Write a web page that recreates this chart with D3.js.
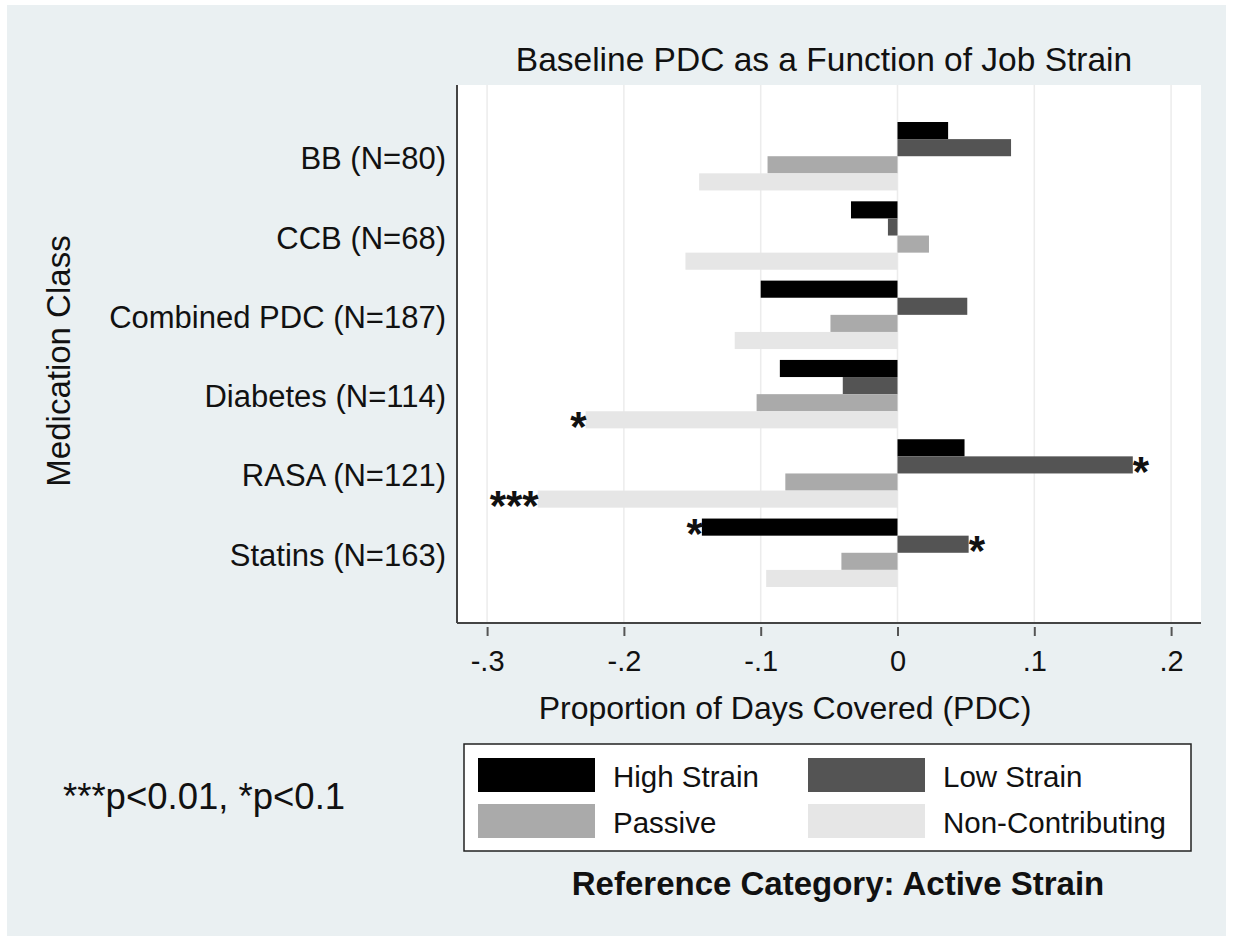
<!DOCTYPE html>
<html>
<head>
<meta charset="utf-8">
<script src="https://cdn.jsdelivr.net/npm/d3@7"></script>
<style>
  body { margin: 0; background: #fff; }
  text { font-family: 'Liberation Sans', Arial, sans-serif; fill: #111; }
</style>
</head>
<body>
<div id="chart"></div>
<script>
// medication classes, top to bottom
const categories = ['BB (N=80)', 'CCB (N=68)', 'Combined PDC (N=187)', 'Diabetes (N=114)', 'RASA (N=121)', 'Statins (N=163)'];
const seriesNames = ['High Strain', 'Low Strain', 'Passive', 'Non-Contributing'];
const seriesColors = ['#000000', '#545454', '#aaaaaa', '#e6e6e6'];

// coefficients (reference: Active Strain)
const highStrain = [0.037, -0.034, -0.100, -0.086, 0.049, -0.143];
const lowStrain = [0.083, -0.007, 0.051, -0.040, 0.172, 0.052];
const passive = [-0.095, 0.023, -0.049, -0.103, -0.082, -0.041];
const nonContributing = [-0.145, -0.155, -0.119, -0.228, -0.263, -0.096];

// significance markers per bar
const starsHigh = ['', '', '', '', '', '*'];
const starsLow = ['', '', '', '', '*', '*'];
const starsPassive = ['', '', '', '', '', ''];
const starsNon = ['', '', '', '*', '***', ''];

const xTicks = [-0.3, -0.2, -0.1, 0, 0.1, 0.2];

const W = 1233, H = 942;
const plot = { left: 457, right: 1201, top: 85, bottom: 623 };

const svg = d3.select('#chart').append('svg')
  .attr('width', W)
  .attr('height', H);

// graph region background
svg.append('rect')
  .attr('x', 7).attr('y', 5)
  .attr('width', W - 14).attr('height', H - 11)
  .attr('fill', '#eaf0f2');

// plot region
svg.append('rect')
  .attr('x', plot.left).attr('y', plot.top)
  .attr('width', plot.right - plot.left).attr('height', plot.bottom - plot.top)
  .attr('fill', '#fff');

const x = d3.scaleLinear()
  .domain([0, 0.1])
  .range([897.5, 897.5 + 136.8]);

const y = d3.scaleBand()
  .domain(categories)
  .range([122, 587])
  .paddingInner(0.137)
  .paddingOuter(0);

const ySub = d3.scaleBand()
  .domain(seriesNames)
  .range([0, y.bandwidth()]);

// grid lines
svg.append('g')
  .selectAll('line')
  .data(xTicks)
  .enter().append('line')
  .attr('x1', d => x(d)).attr('x2', d => x(d))
  .attr('y1', plot.top).attr('y2', plot.bottom)
  .attr('stroke', '#ececec')
  .attr('stroke-width', 1.5);

// bars
const allSeries = [highStrain, lowStrain, passive, nonContributing];
const allStars = [starsHigh, starsLow, starsPassive, starsNon];
const rows = [];
categories.forEach((c, i) => {
  seriesNames.forEach((s, j) => {
    rows.push({ cat: c, series: s, value: allSeries[j][i], stars: allStars[j][i], color: seriesColors[j] });
  });
});

svg.append('g')
  .selectAll('rect')
  .data(rows)
  .enter().append('rect')
  .attr('x', d => Math.min(x(0), x(d.value)))
  .attr('y', d => y(d.cat) + ySub(d.series))
  .attr('width', d => Math.abs(x(d.value) - x(0)))
  .attr('height', ySub.bandwidth())
  .attr('fill', d => d.color);

// significance stars
const starSize = 42;
svg.append('g')
  .selectAll('text')
  .data(rows.filter(d => d.stars))
  .enter().append('text')
  .attr('x', d => d.value < 0 ? x(d.value) + 1 : x(d.value))
  .attr('y', d => y(d.cat) + ySub(d.series) + ySub.bandwidth() / 2 + starSize * 0.5)
  .attr('text-anchor', d => d.value < 0 ? 'end' : 'start')
  .style('font-size', starSize + 'px')
  .style('font-weight', 'bold')
  .text(d => d.stars);

// axes lines
svg.append('line')
  .attr('x1', plot.left).attr('x2', plot.left)
  .attr('y1', plot.top).attr('y2', plot.bottom)
  .attr('stroke', '#444').attr('stroke-width', 2);
svg.append('line')
  .attr('x1', plot.left).attr('x2', plot.right)
  .attr('y1', plot.bottom).attr('y2', plot.bottom)
  .attr('stroke', '#444').attr('stroke-width', 2);

// x axis ticks and labels
const xAxis = d3.axisBottom(x)
  .tickValues(xTicks)
  .tickSize(9)
  .tickPadding(14)
  .tickFormat(v => v === 0 ? '0' : (v < 0 ? '-' : '') + String(Math.abs(+v.toFixed(2))).replace(/^0/, ''));

const gx = svg.append('g')
  .attr('transform', `translate(0,${plot.bottom + 4})`)
  .call(xAxis);
gx.select('.domain').remove();
gx.selectAll('.tick line').attr('stroke', '#555').attr('stroke-width', 2);
gx.selectAll('.tick text')
  .style('font-size', '29px')
  .style('font-family', "'Liberation Sans', Arial, sans-serif")
  .attr('fill', '#111');

// y category labels
svg.append('g')
  .selectAll('text')
  .data(categories)
  .enter().append('text')
  .attr('x', 446)
  .attr('y', d => y(d) + y.bandwidth() / 2 + 13)
  .attr('text-anchor', 'end')
  .style('font-size', '31px')
  .text(d => d);

// titles
svg.append('text')
  .attr('x', 824).attr('y', 71)
  .attr('text-anchor', 'middle')
  .style('font-size', '33.5px')
  .text('Baseline PDC as a Function of Job Strain');

svg.append('text')
  .attr('x', 785).attr('y', 719)
  .attr('text-anchor', 'middle')
  .style('font-size', '32px')
  .text('Proportion of Days Covered (PDC)');

svg.append('text')
  .attr('transform', 'translate(70,361) rotate(-90)')
  .attr('text-anchor', 'middle')
  .style('font-size', '33px')
  .text('Medication Class');

// legend
svg.append('rect')
  .attr('x', 464).attr('y', 744)
  .attr('width', 727).attr('height', 107)
  .attr('fill', '#fff')
  .attr('stroke', '#222').attr('stroke-width', 1.5);

const legendPos = [
  { col: 0, row: 0 }, { col: 1, row: 0 }, { col: 0, row: 1 }, { col: 1, row: 1 }
];
const legend = svg.append('g')
  .selectAll('g')
  .data(seriesNames)
  .enter().append('g')
  .attr('transform', (d, i) => `translate(${478 + legendPos[i].col * 330},${758 + legendPos[i].row * 46})`);

legend.append('rect')
  .attr('width', 117)
  .attr('height', 34)
  .attr('fill', (d, i) => seriesColors[i]);

legend.append('text')
  .attr('x', 135)
  .attr('y', 29)
  .style('font-size', '29.5px')
  .text(d => d);

svg.append('text')
  .attr('x', 838).attr('y', 895)
  .attr('text-anchor', 'middle')
  .style('font-size', '33px')
  .style('font-weight', 'bold')
  .text('Reference Category: Active Strain');

svg.append('text')
  .attr('x', 63).attr('y', 809)
  .style('font-size', '36.5px')
  .text('***p<0.01, *p<0.1');
</script>
</body>
</html>
